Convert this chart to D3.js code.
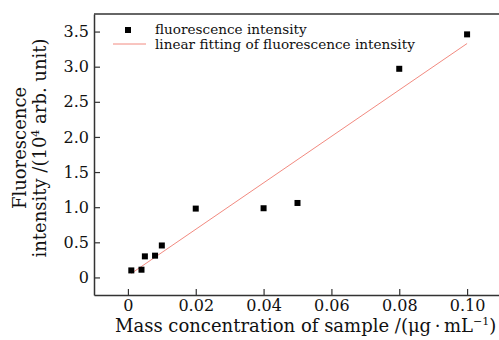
<!DOCTYPE html>
<html>
<head>
<meta charset="utf-8">
<script src="https://cdn.jsdelivr.net/npm/d3@7"></script>
<style>
  body { margin: 0; background: #fff; }
  svg { display: block; }
  text { font-family: "DejaVu Serif", serif; fill: #111; }
</style>
</head>
<body>
<div id="chart"></div>
<script>
// sample mass concentration (ug/mL) and fluorescence (10^4 arb. unit)
const concentration = [0.001, 0.004, 0.005, 0.008, 0.01, 0.02, 0.04, 0.05, 0.08, 0.1];
const intensity = [0.10, 0.11, 0.30, 0.31, 0.455, 0.98, 0.985, 1.06, 2.97, 3.46];
// fitted line endpoints
const fitX = [0.001, 0.1];
const fitY = [0.057, 3.33];
const xTicks = [0, 0.02, 0.04, 0.06, 0.08, 0.10];
const yTicks = [0, 0.5, 1.0, 1.5, 2.0, 2.5, 3.0, 3.5];
const legendLabels = ["fluorescence intensity", "linear fitting of fluorescence intensity"];

const width = 499, height = 340;
const margin = { top: 14, right: -2, bottom: 45, left: 94 };

const svg = d3.select("#chart").append("svg")
    .attr("width", width)
    .attr("height", height);

const x = d3.scaleLinear()
    .domain([-0.01, 0.11])
    .range([margin.left, width - margin.right]);
const y = d3.scaleLinear()
    .domain([-0.25, 3.75])
    .range([height - margin.bottom, margin.top]);

// top frame line
const frame = "#333";
svg.append("line")
    .attr("x1", margin.left).attr("x2", width + 2)
    .attr("y1", margin.top).attr("y2", margin.top)
    .attr("stroke", frame).attr("stroke-width", 1.5);

// axes with inward ticks
const xAxis = svg.append("g")
    .attr("transform", `translate(0,${height - margin.bottom})`)
    .call(d3.axisBottom(x).tickValues(xTicks).tickSizeInner(-6).tickSizeOuter(0)
        .tickPadding(5).tickFormat(d => d === 0 ? "0" : d3.format(".2f")(d)));
const yAxis = svg.append("g")
    .attr("transform", `translate(${margin.left},0)`)
    .call(d3.axisLeft(y).tickValues(yTicks).tickSizeInner(-6).tickSizeOuter(0)
        .tickPadding(5).tickFormat(d => d === 0 ? "0" : d3.format(".1f")(d)));

[xAxis, yAxis].forEach(g => {
    g.select(".domain").attr("stroke", frame).attr("stroke-width", 1.5);
    g.selectAll(".tick line").attr("stroke", frame).attr("stroke-width", 1.2);
    g.selectAll(".tick text")
        .style("font-family", "DejaVu Serif")
        .style("font-size", "16px")
        .attr("fill", "#111");
});

// fitted line
svg.append("path")
    .datum(d3.zip(fitX, fitY))
    .attr("d", d3.line().x(d => x(d[0])).y(d => y(d[1])))
    .attr("fill", "none")
    .attr("stroke", "#f28a80")
    .attr("stroke-width", 1);

// data squares
const sq = 6;
svg.append("g").selectAll("rect")
    .data(d3.zip(concentration, intensity))
    .enter().append("rect")
    .attr("x", d => x(d[0]) - sq / 2)
    .attr("y", d => y(d[1]) - sq / 2)
    .attr("width", sq).attr("height", sq)
    .attr("fill", "#000");

// legend
const legend = svg.append("g");
legend.append("rect")
    .attr("x", 125).attr("y", 27).attr("width", sq).attr("height", sq)
    .attr("fill", "#000");
legend.append("line")
    .attr("x1", 113).attr("x2", 146).attr("y1", 44).attr("y2", 44)
    .attr("stroke", "#f28a80").attr("stroke-width", 1);
legend.selectAll("text")
    .data(legendLabels)
    .enter().append("text")
    .attr("x", 155)
    .attr("y", (d, i) => 34 + i * 15)
    .style("font-size", "13.6px")
    .text(d => d);

// x axis title
const xt = svg.append("text")
    .attr("x", 115).attr("y", 332)
    .style("font-size", "18px");
xt.append("tspan").text("Mass concentration of sample /(\u03bcg\u2009\u00b7\u2009mL");
xt.append("tspan").attr("dy", -7).style("font-size", "11px").text("\u22121");
xt.append("tspan").attr("dy", 7).text(")");

// y axis title (two lines)
const yt = svg.append("g")
    .attr("transform", `translate(0,148) rotate(-90)`);
yt.append("text")
    .attr("x", 0).attr("y", 26)
    .attr("text-anchor", "middle")
    .style("font-size", "18px")
    .text("Fluorescence");
const yt2 = yt.append("text")
    .attr("x", 0).attr("y", 46)
    .attr("text-anchor", "middle")
    .style("font-size", "18px");
yt2.append("tspan").text("intensity /(10");
yt2.append("tspan").attr("dy", -7).style("font-size", "11px").text("4");
yt2.append("tspan").attr("dy", 7).text(" arb. unit)");
</script>
</body>
</html>
